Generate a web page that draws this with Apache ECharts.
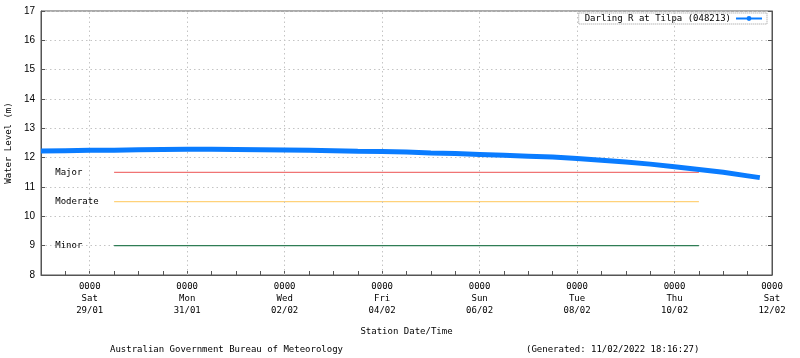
<!DOCTYPE html>
<html>
<head>
<meta charset="utf-8">
<script src="https://cdn.jsdelivr.net/npm/echarts@6/dist/echarts.min.js"></script>
<style>
html,body{margin:0;padding:0;background:#fff;}
#chart{width:800px;height:358px;}
</style>
</head>
<body>
<div id="chart"></div>
<script>
// ---- data (hours since 28/01 00:00) ----
const seriesName = 'Darling R at Tilpa (048213)';
const hours = [0,12,24,36,48,60,72,84,96,108,120,132,144,156,168,180,192,204,216,228,240,252,264,276,288,300,312,324,336,348,354];
const levels = [12.23,12.24,12.25,12.25,12.27,12.28,12.29,12.29,12.28,12.27,12.26,12.25,12.24,12.22,12.21,12.19,12.16,12.14,12.11,12.08,12.05,12.02,11.97,11.91,11.85,11.78,11.69,11.60,11.50,11.38,11.32];

const tickHours = [24,72,120,168,216,264,312,360];
const tickTimes = ['0000','0000','0000','0000','0000','0000','0000','0000'];
const tickDays = ['Sat','Mon','Wed','Fri','Sun','Tue','Thu','Sat'];
const tickDates = ['29/01','31/01','02/02','04/02','06/02','08/02','10/02','12/02'];

const thresholdNames = ['Major','Moderate','Minor'];
const thresholdValues = [11.5,10.5,9];
const thresholdColors = ['#f07474','#ffd27a','#2f7d55'];
const thresholdStart = 36;
const thresholdEnd = 324;
const thresholdLabelHour = 7;

const xMin = 0, xMax = 360, yMin = 8, yMax = 17;
const yTitle = 'Water Level (m)';
const xTitle = 'Station Date/Time';
const footerLeft = 'Australian Government Bureau of Meteorology';
const footerRight = '(Generated: 11/02/2022 18:16:27)';

const MONO = '"DejaVu Sans Mono", "Liberation Mono", monospace';
const SANS = '"Liberation Sans", Arial, sans-serif';

const chart = echarts.init(document.getElementById('chart'), null, {renderer:'canvas'});

const thresholdSeries = thresholdNames.map((n,i)=>({
  name: n,
  type: 'line',
  xAxisIndex: 0, yAxisIndex: 0,
  data: [[thresholdStart, thresholdValues[i]],[thresholdEnd, thresholdValues[i]]],
  showSymbol: false, symbol: 'none',
  lineStyle: {color: thresholdColors[i], width: 1.2},
  silent: true, z: 3,
  markPoint: {
    symbol: 'circle', symbolSize: 0, silent: true,
    data: [{coord:[thresholdLabelHour, thresholdValues[i]], value: n}],
    label: {show: true, position: 'right', distance: 0, formatter: n,
            fontFamily: MONO, fontSize: 9, color: '#000'}
  }
}));

const option = {
  animation: false,
  backgroundColor: '#fff',
  grid: {left: 41, right: 28, top: 11, bottom: 83, containLabel: false, outerBoundsMode: 'none',
         show: true, borderColor: '#555', borderWidth: 1, backgroundColor: 'transparent'},
  legend: {
    data: [seriesName],
    right: 33, top: 13,
    align: 'right',
    padding: [1,4,1,6],
    itemGap: 0,
    itemWidth: 26, itemHeight: 6,
    borderColor: '#999', borderWidth: 1, borderType: 'dotted',
    textStyle: {fontFamily: MONO, fontSize: 9, color: '#000'}
  },
  xAxis: [{
    type: 'value', min: xMin, max: xMax, interval: 12,
    name: xTitle, nameLocation: 'middle', nameGap: 52,
    nameTextStyle: {fontFamily: MONO, fontSize: 9, color: '#000'},
    axisLine: {show: true, lineStyle: {color: '#555', width: 1}},
    axisTick: {show: true, inside: true, length: 4, lineStyle: {color: '#555'}},
    splitLine: {show: false},
    axisLabel: {
      show: true, margin: 6, showMinLabel: true, showMaxLabel: true, hideOverlap: false,
      fontFamily: MONO, fontSize: 9, color: '#000', lineHeight: 12, align: 'center',
      formatter: function(v){
        const k = tickHours.indexOf(Math.round(v));
        if (k < 0) return '';
        return tickTimes[k] + '\n' + tickDays[k] + '\n' + tickDates[k];
      }
    }
  }],
  yAxis: [{
    type: 'value', min: yMin, max: yMax, interval: 1,
    name: yTitle, nameLocation: 'middle', nameGap: 26, nameRotate: 90,
    nameTextStyle: {fontFamily: MONO, fontSize: 9, color: '#000'},
    axisLine: {show: true, lineStyle: {color: '#555', width: 1}},
    axisTick: {show: true, inside: true, length: 4, lineStyle: {color: '#555'}},
    axisLabel: {margin: 6, fontFamily: SANS, fontSize: 10, color: '#000'},
    splitLine: {show: true, lineStyle: {color: '#c4c4c4', type: [1.5,3], width: 1}}
  },{
    type: 'value', min: yMin, max: yMax, interval: 1, position: 'right',
    axisLine: {show: true, lineStyle: {color: '#555', width: 1}},
    axisTick: {show: true, inside: true, length: 4, lineStyle: {color: '#555'}},
    axisLabel: {show: false},
    splitLine: {show: false}
  }],
  series: [
    {
      name: '_grid', type: 'line', data: [], silent: true,
      markLine: {
        silent: true, symbol: 'none', label: {show: false},
        lineStyle: {color: '#c4c4c4', type: [1.5,3], width: 1},
        data: tickHours.filter(h => h < xMax).map(h => ({xAxis: h}))
      }
    },
    ...thresholdSeries,
    {
      name: seriesName, type: 'line',
      data: hours.map((h,i)=>[h, levels[i]]),
      symbol: 'circle', symbolSize: 5, showSymbol: false,
      itemStyle: {color: '#0a7cff'},
      lineStyle: {color: '#0a7cff', width: 5},
      z: 5
    }
  ],
  graphic: [
    {type: 'text', left: 110, top: 345, style: {text: footerLeft, font: '9px ' + MONO, fill: '#000'}},
    {type: 'text', left: 526, top: 345, style: {text: footerRight, font: '9px ' + MONO, fill: '#000'}}
  ]
};
chart.setOption(option);
</script>
</body>
</html>
